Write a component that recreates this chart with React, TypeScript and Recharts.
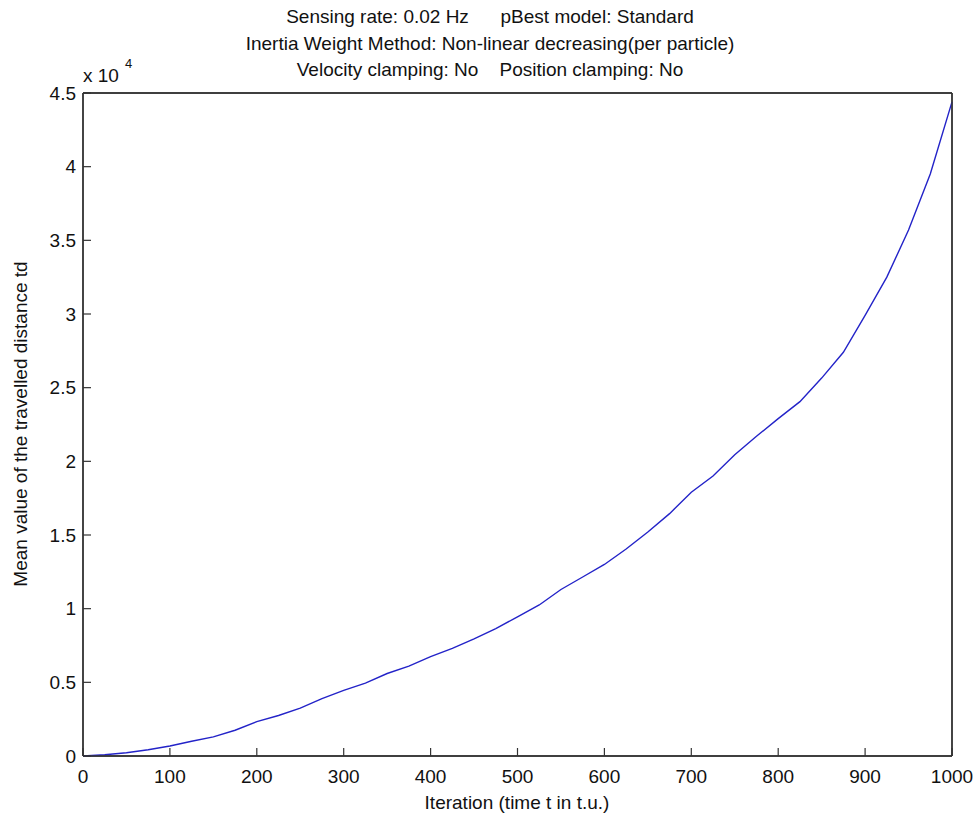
import React from 'react'
import { LineChart, Line, XAxis, YAxis, CartesianGrid } from 'recharts'

// iteration values (t.u.)
const iterations = [
  0, 25, 50, 75, 100, 125, 150, 175, 200, 225, 250, 275, 300, 325, 350, 375, 400, 425, 450, 475,
  500, 525, 550, 575, 600, 625, 650, 675, 700, 725, 750, 775, 800, 825, 850, 875, 900, 925, 950, 975, 1000,
]
const meanDistance = [
  0, 0.008, 0.022, 0.042, 0.068, 0.1, 0.13, 0.175, 0.233, 0.275, 0.325, 0.39, 0.445, 0.495, 0.56, 0.61,
  0.675, 0.73, 0.795, 0.865, 0.945, 1.025, 1.13, 1.215, 1.3, 1.405, 1.52, 1.645, 1.79, 1.9, 2.045, 2.17,
  2.29, 2.405, 2.565, 2.74, 2.99, 3.25, 3.57, 3.95, 4.44,
]
const xTicks = [0, 100, 200, 300, 400, 500, 600, 700, 800, 900, 1000]
const yTicks = [0, 5000, 10000, 15000, 20000, 25000, 30000, 35000, 40000, 45000]
const titleLines = [
  'Sensing rate: 0.02 Hz      pBest model: Standard',
  'Inertia Weight Method: Non-linear decreasing(per particle)',
  'Velocity clamping: No    Position clamping: No',
]

const data = iterations.map((t, i) => ({ t, td: meanDistance[i] * 1e4 }))

const FONT = '"Liberation Sans", Arial, sans-serif'
const AXIS = '#333'
const FS = 19
const tickFont = { fontFamily: FONT, fontSize: FS, fill: '#111' }
const tickLine = { stroke: AXIS, strokeWidth: 1.2 }
const axisLine = { stroke: AXIS, strokeWidth: 1.4 }

const txt: React.CSSProperties = {
  position: 'absolute',
  fontFamily: FONT,
  fontSize: FS,
  lineHeight: `${FS}px`,
  color: '#111',
  whiteSpace: 'pre',
  pointerEvents: 'none',
}

export default function App() {
  return (
    <div style={{ position: 'absolute', left: 0, top: 0, width: 980, height: 821 }}>
      <LineChart
        width={980}
        height={821}
        data={data}
        margin={{ top: 92, right: 27, bottom: 35, left: 33 }}
      >
        <CartesianGrid
          xAxisId="bottom"
          yAxisId="left"
          horizontalValues={[0, 45000]}
          verticalValues={[0, 1000]}
          stroke={AXIS}
          strokeWidth={1.4}
          strokeDasharray=""
        />
        <XAxis
          xAxisId="bottom"
          dataKey="t"
          type="number"
          domain={[0, 1000]}
          ticks={xTicks}
          height={30}
          tickSize={-8}
          tickMargin={22}
          tickLine={tickLine}
          axisLine={axisLine}
          tick={tickFont}
          interval={0}
        />
        <XAxis
          xAxisId="top"
          orientation="top"
          dataKey="t"
          type="number"
          domain={[0, 1000]}
          ticks={xTicks}
          height={1}
          tickSize={-8}
          tickLine={tickLine}
          axisLine={axisLine}
          tick={false}
          interval={0}
        />
        <YAxis
          yAxisId="left"
          type="number"
          domain={[0, 45000]}
          ticks={yTicks}
          width={50}
          tickSize={-8}
          tickMargin={15}
          tickLine={tickLine}
          axisLine={axisLine}
          tick={tickFont}
          tickFormatter={(v: number) => String(v / 1e4)}
          interval={0}
        />
        <YAxis
          yAxisId="right"
          orientation="right"
          type="number"
          domain={[0, 45000]}
          ticks={yTicks}
          width={1}
          tickSize={-8}
          tickLine={tickLine}
          axisLine={axisLine}
          tick={false}
          interval={0}
        />
        {/* invisible copy bound to the mirrored top/right axes */}
        <Line
          xAxisId="top"
          yAxisId="right"
          type="linear"
          dataKey="td"
          stroke="#fff"
          strokeOpacity={0}
          dot={false}
          activeDot={false}
          isAnimationActive={false}
        />
        <Line
          xAxisId="bottom"
          yAxisId="left"
          type="linear"
          dataKey="td"
          stroke="#2323c8"
          strokeWidth={1.4}
          dot={false}
          isAnimationActive={false}
        />
      </LineChart>
      {titleLines.map((line, i) => (
        <div key={i} style={{ ...txt, left: 190, width: 600, textAlign: 'center', top: 7 + i * 26.5 }}>
          {line}
        </div>
      ))}
      <div style={{ ...txt, left: 83, top: 66 }}>x 10</div>
      <div style={{ ...txt, left: 125, top: 57, fontSize: 13, lineHeight: '13px' }}>4</div>
      <div
        style={{
          ...txt,
          left: 21 - 250,
          top: 424 - 10,
          width: 500,
          height: 20,
          lineHeight: '20px',
          textAlign: 'center',
          transform: 'rotate(-90deg)',
        }}
      >
        Mean value of the travelled distance td
      </div>
      <div style={{ ...txt, left: 317, width: 400, textAlign: 'center', top: 793 }}>
        Iteration (time t in t.u.)
      </div>
    </div>
  )
}
